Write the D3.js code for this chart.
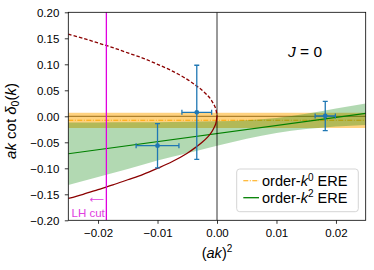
<!DOCTYPE html>
<html><head><meta charset="utf-8">
<script src="https://cdn.jsdelivr.net/npm/d3@7"></script>
<style>
body{margin:0;background:#fff;}
</style></head>
<body><svg id="c" width="374" height="270"></svg>
<script>
// ---- data ----
const xTicks = [-0.02, -0.01, 0.00, 0.01, 0.02];
const xTickLabels = ["\u22120.02", "\u22120.01", "0.00", "0.01", "0.02"];
const yTicks = [-0.20, -0.15, -0.10, -0.05, 0.00, 0.05, 0.10, 0.15, 0.20];
const yTickLabels = ["\u22120.20", "\u22120.15", "\u22120.10", "\u22120.05", "0.00", "0.05", "0.10", "0.15", "0.20"];

const pointX = [-0.0100, -0.0034, 0.0182];
const pointY = [-0.0565, 0.0077, 0.0006];
const pointXErr = [0.0036, 0.0025, 0.0017];
const pointYErr = [0.0425, 0.0905, 0.0280];

// bound-state pole curve
const poleY = [0.158, 0.150, 0.141, 0.132, 0.122, 0.112, 0.100, 0.087, 0.071, 0.059, 0.050, 0.039, 0.032, 0.022, 0.014, 0.000];
const poleX = [-0.025, -0.0225, -0.020, -0.0175, -0.015, -0.0125, -0.010, -0.0075, -0.005, -0.0035, -0.0025, -0.0015, -0.0010, -0.0005, -0.0002, 0.000];

// order-k^0 ERE
const k0Value = -0.0075;
const k0Lower = -0.0225;
const k0Upper = 0.0068;

// order-k^2 ERE
const k2LineX = [-0.025, 0.025];
const k2LineY = [-0.072, 0.0058];
const k2BandX = [-0.025, -0.020, -0.015, -0.010, -0.005, 0.000, 0.005, 0.010, 0.015, 0.020, 0.025];
const k2BandLo = [-0.132, -0.1166, -0.1012, -0.0850, -0.0711, -0.0566, -0.0431, -0.0319, -0.0246, -0.0195, -0.0165];
const k2BandHi = [-0.012, -0.0118, -0.0116, -0.0113, -0.0107, -0.0096, -0.0075, -0.0031, 0.0050, 0.0150, 0.0245];

const lhCutX = -0.0186;
const xDomain = [-0.025, 0.025];
const yDomain = [-0.20, 0.20];

// ---- drawing ----
const FONT = "'Liberation Sans', Arial, Roboto, sans-serif";
const svg = d3.select("#c");
const L = 68.3, R = 365.7, T = 12.3, B = 220.3;
const x = d3.scaleLinear().domain(xDomain).range([L, R]);
const y = d3.scaleLinear().domain(yDomain).range([B, T]);

svg.append("defs").append("clipPath").attr("id", "clip")
  .append("rect").attr("x", L).attr("y", T).attr("width", R - L).attr("height", B - T);
const g = svg.append("g").attr("clip-path", "url(#clip)");

// y=0 line
g.append("line").attr("x1", L).attr("x2", R).attr("y1", y(0)).attr("y2", y(0))
  .attr("stroke", "#000").attr("stroke-width", 0.8);

// orange band + line
g.append("rect").attr("x", L).attr("width", R - L)
  .attr("y", y(k0Upper)).attr("height", y(k0Lower) - y(k0Upper))
  .attr("fill", "#ffa500").attr("fill-opacity", 0.5);
g.append("line").attr("x1", L).attr("x2", R).attr("y1", y(k0Value)).attr("y2", y(k0Value))
  .attr("stroke", "#ffa500").attr("stroke-width", 1.1).attr("stroke-dasharray", "5,1.5,1,1.5");

// green band
const bandData = k2BandX.map((v, i) => [v, k2BandLo[i], k2BandHi[i]]);
g.append("path").datum(bandData)
  .attr("d", d3.area().x(d => x(d[0])).y0(d => y(d[1])).y1(d => y(d[2])).curve(d3.curveMonotoneX))
  .attr("fill", "#008000").attr("fill-opacity", 0.3);
g.append("path").datum(k2LineX.map((v, i) => [v, k2LineY[i]]))
  .attr("d", d3.line().x(d => x(d[0])).y(d => y(d[1])))
  .attr("fill", "none").attr("stroke", "#008000").attr("stroke-width", 1.2);

// x=0 vertical
g.append("line").attr("x1", x(0)).attr("x2", x(0)).attr("y1", T).attr("y2", B)
  .attr("stroke", "#000").attr("stroke-width", 0.8);

// pole curve
const upper = poleX.map((v, i) => [v, poleY[i]]);
const lower = poleX.map((v, i) => [v, -poleY[i]]);
const pl = d3.line().x(d => x(d[0])).y(d => y(d[1])).curve(d3.curveCatmullRom);
g.append("path").datum(upper).attr("d", pl).attr("fill", "none")
  .attr("stroke", "#8b0000").attr("stroke-width", 1.3).attr("stroke-dasharray", "3.5,2");
g.append("path").datum(lower).attr("d", pl).attr("fill", "none")
  .attr("stroke", "#8b0000").attr("stroke-width", 1.3);

// LH cut
g.append("line").attr("x1", x(lhCutX)).attr("x2", x(lhCutX)).attr("y1", T).attr("y2", B)
  .attr("stroke", "#e000e0").attr("stroke-width", 1.3);
svg.append("text").attr("x", x(lhCutX) - 2.5).attr("y", 202.5).attr("text-anchor", "end")
  .style("font-family", "'DejaVu Sans', sans-serif").attr("font-size", 10).attr("fill", "#e040e0").text("\u27f5");
svg.append("text").attr("x", 71.5).attr("y", 216.5)
  .style("font-family", FONT).attr("font-size", 11.5).attr("fill", "#e040e0").text("LH cut");

// data points
const blue = "#1f77b4";
const pts = g.append("g").attr("stroke", blue).attr("stroke-width", 1.3);
pointX.forEach((px, i) => {
  const cx = x(px), cy = y(pointY[i]);
  const x0 = x(px - pointXErr[i]), x1 = x(px + pointXErr[i]);
  const y0 = y(pointY[i] - pointYErr[i]), y1 = y(pointY[i] + pointYErr[i]);
  pts.append("line").attr("x1", x0).attr("x2", x1).attr("y1", cy).attr("y2", cy);
  pts.append("line").attr("x1", cx).attr("x2", cx).attr("y1", y0).attr("y2", y1);
  pts.append("line").attr("x1", x0).attr("x2", x0).attr("y1", cy - 2.5).attr("y2", cy + 2.5);
  pts.append("line").attr("x1", x1).attr("x2", x1).attr("y1", cy - 2.5).attr("y2", cy + 2.5);
  pts.append("line").attr("x1", cx - 2.5).attr("x2", cx + 2.5).attr("y1", y0).attr("y2", y0);
  pts.append("line").attr("x1", cx - 2.5).attr("x2", cx + 2.5).attr("y1", y1).attr("y2", y1);
  pts.append("circle").attr("cx", cx).attr("cy", cy).attr("r", 2.4).attr("fill", blue).attr("stroke", "none");
});

// frame
svg.append("rect").attr("x", L).attr("y", T).attr("width", R - L).attr("height", B - T)
  .attr("fill", "none").attr("stroke", "#000").attr("stroke-width", 0.8);

// axes
const xAxis = d3.axisBottom(x).tickValues(xTicks).tickSize(3.5).tickPadding(5.5)
  .tickFormat((d, i) => xTickLabels[i]);
const yAxis = d3.axisLeft(y).tickValues(yTicks).tickSize(3.5).tickPadding(5.5)
  .tickFormat((d, i) => yTickLabels[i]);
const gx = svg.append("g").attr("transform", `translate(0,${B})`).call(xAxis);
const gy = svg.append("g").attr("transform", `translate(${L},0)`).call(yAxis);
[gx, gy].forEach(a => {
  a.select(".domain").remove();
  a.selectAll(".tick line").attr("stroke", "#000").attr("stroke-width", 0.8);
  a.selectAll(".tick text").style("font-family", FONT).attr("font-size", 11.5).attr("fill", "#000");
});
gy.selectAll(".tick text").attr("dy", "0.36em");

// labels
const xl = svg.append("text").attr("x", x(0)).attr("y", 258).attr("text-anchor", "middle")
  .style("font-family", FONT).attr("font-size", 14.5);
xl.append("tspan").text("(");
xl.append("tspan").attr("font-style", "italic").text("ak");
xl.append("tspan").text(")");
xl.append("tspan").attr("font-size", 10).attr("dy", -6).text("2");

const yl = svg.append("text").attr("transform", "translate(16,121) rotate(-90)")
  .attr("text-anchor", "middle").style("font-family", FONT).attr("font-size", 15);
yl.append("tspan").attr("font-style", "italic").text("ak");
yl.append("tspan").text(" cot ");
yl.append("tspan").attr("font-style", "italic").text("\u03b4");
yl.append("tspan").attr("font-size", 10.5).attr("dy", 3).text("0");
yl.append("tspan").attr("dy", -3).text("(");
yl.append("tspan").attr("font-style", "italic").text("k");
yl.append("tspan").text(")");

const jt = svg.append("text").attr("x", 288).attr("y", 57).style("font-family", FONT).attr("font-size", 15.5);
jt.append("tspan").attr("font-style", "italic").text("J");
jt.append("tspan").text(" = 0");

// legend
const lg = svg.append("g");
lg.append("rect").attr("x", 236.7).attr("y", 169).attr("width", 121.6).attr("height", 42.7)
  .attr("rx", 3).attr("fill", "#fff").attr("fill-opacity", 0.8).attr("stroke", "#d0d0d0").attr("stroke-width", 0.9);
lg.append("line").attr("x1", 243.3).attr("x2", 259).attr("y1", 180.7).attr("y2", 180.7)
  .attr("stroke", "#ffa500").attr("stroke-width", 1.1).attr("stroke-dasharray", "5,1.5,1,1.5");
lg.append("line").attr("x1", 243.3).attr("x2", 259).attr("y1", 197.7).attr("y2", 197.7)
  .attr("stroke", "#008000").attr("stroke-width", 1.3);
[["0", 186], ["2", 202.7]].forEach(([p, by]) => {
  const t = lg.append("text").attr("x", 262).attr("y", by).style("font-family", FONT).attr("font-size", 14.5);
  t.append("tspan").text("order-");
  t.append("tspan").attr("font-style", "italic").text("k");
  t.append("tspan").attr("font-size", 10).attr("dy", -5.5).text(p);
  t.append("tspan").attr("dy", 5.5).text(" ERE");
});
</script></body></html>
